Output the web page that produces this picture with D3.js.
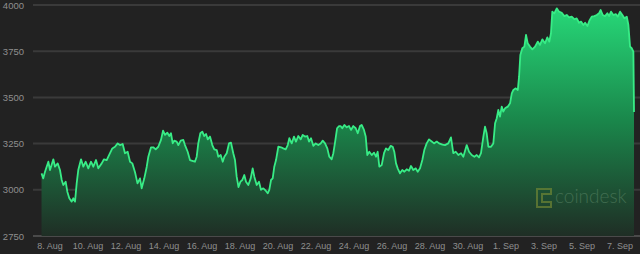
<!DOCTYPE html>
<html>
<head>
<meta charset="utf-8">
<script src="https://cdn.jsdelivr.net/npm/d3@7"></script>
<style>
html,body{margin:0;padding:0;background:#222222;}
svg{display:block;}
</style>
</head>
<body>
<svg id="chart" width="640" height="254"></svg>
<script>
// hours since 2017-08-07 12:00 UTC
const hours = [1.3,3.5,5.7,9.9,12.0,16.2,18.3,21.7,24.6,26.8,28.8,31.8,33.9,36.4,39.4,41.4,43.6,45.7,47.7,51.2,54.1,57.1,60.4,63.8,66.7,70.1,73.0,77.3,80.2,83.6,87.8,90.7,94.1,97.5,100.4,103.8,106.7,110.1,113.1,116.0,119.4,122.5,125.7,127.8,131.1,134.2,136.2,139.6,142.5,145.5,148.8,152.2,154.8,157.3,160.2,162.7,164.8,167.0,169.0,172.0,174.1,177.1,180.4,182.5,185.9,188.8,191.7,195.1,197.3,199.3,201.9,204.4,206.9,209.1,211.2,214.1,217.0,219.5,222.6,224.6,227.6,230.2,232.2,235.2,238.1,240.6,243.5,245.7,247.8,250.1,252.6,254.9,257.4,259.6,262.5,265.5,268.0,270.1,273.1,276.0,278.5,281.4,284.5,287.0,289.0,291.2,293.3,295.3,297.5,300.4,303.8,306.7,309.7,312.3,314.3,317.3,320.2,322.7,325.6,328.7,331.2,334.1,337.0,339.2,341.7,344.6,347.6,350.9,353.9,356.5,359.4,362.3,364.8,367.8,369.9,372.0,374.6,377.1,379.0,381.2,383.8,386.8,389.7,392.2,395.1,398.2,400.7,403.6,405.7,408.6,410.8,412.8,415.3,418.4,421.3,423.8,425.9,428.0,431.0,433.9,436.4,439.3,442.4,444.9,446.9,449.1,451.2,454.1,457.0,459.6,462.6,465.5,468.0,470.9,474.0,476.5,479.4,482.3,484.8,487.8,490.7,494.2,497.1,500.5,503.4,507.8,510.9,515.1,518.5,521.4,524.5,527.8,531.2,534.1,538.4,541.3,544.7,548.0,551.0,553.9,556.4,559.4,561.5,563.6,565.7,569.1,572.0,574.2,576.3,578.3,580.4,582.6,584.6,586.8,590.2,593.1,595.3,597.3,600.3,602.9,604.5,606.1,608.6,611.2,613.3,615.4,618.3,621.3,624.7,628.1,630.9,633.9,637.3,640.2,642.7,644.8,646.5,649.0,652.1,655.0,658.4,661.7,664.7,667.6,671.0,674.3,677.3,680.3,682.8,685.7,687.9,690.8,693.3,696.3,699.6,702.6,705.5,707.6,710.2,713.1,716.0,718.2,720.7,723.6,726.7,729.2,732.1,735.0,737.5,740.6,742.6,744.7,746.8,748.9,749.7];
const prices = [3089,3062,3098,3152,3107,3165,3125,3143,3107,3053,3026,3044,2990,2954,2936,2954,2936,3035,3107,3165,3125,3152,3116,3152,3125,3161,3116,3143,3165,3161,3198,3224,3233,3251,3242,3248,3198,3206,3152,3143,3095,3035,3062,3008,3062,3125,3179,3230,3230,3219,3233,3270,3320,3297,3309,3291,3306,3251,3266,3261,3242,3266,3270,3242,3206,3161,3157,3152,3179,3251,3306,3315,3291,3302,3273,3288,3242,3219,3215,3179,3188,3152,3179,3198,3251,3255,3198,3161,3071,3015,3044,3053,3080,3044,3026,3062,3116,3071,3026,3044,3000,3008,2995,2981,3000,3053,3062,3125,3161,3233,3230,3224,3219,3242,3279,3251,3288,3261,3291,3273,3297,3288,3291,3261,3279,3238,3251,3242,3251,3266,3251,3224,3179,3165,3198,3255,3333,3345,3345,3333,3351,3338,3345,3324,3345,3333,3306,3345,3351,3324,3288,3188,3206,3188,3201,3179,3206,3125,3134,3198,3224,3215,3238,3233,3206,3143,3116,3089,3107,3098,3111,3103,3129,3107,3116,3098,3116,3161,3215,3251,3273,3261,3251,3261,3251,3244,3242,3251,3284,3198,3206,3188,3198,3179,3242,3206,3188,3179,3188,3175,3198,3288,3342,3306,3233,3233,3251,3360,3387,3432,3396,3450,3423,3441,3450,3468,3522,3540,3549,3540,3612,3729,3766,3775,3838,3793,3775,3760,3775,3802,3784,3814,3793,3825,3802,3847,3964,3955,3982,3964,3958,3940,3946,3933,3937,3923,3928,3904,3910,3892,3904,3886,3915,3937,3940,3946,3955,3973,3946,3940,3955,3940,3964,3946,3951,3937,3964,3946,3928,3937,3892,3775,3766,3748,3421];
const yTicks = [2750, 3000, 3250, 3500, 3750, 4000];
const xTickLabels = ["8. Aug","10. Aug","12. Aug","14. Aug","16. Aug","18. Aug","20. Aug","22. Aug","24. Aug","26. Aug","28. Aug","30. Aug","1. Sep","3. Sep","5. Sep","7. Sep"];

const start = new Date(Date.UTC(2017, 7, 7, 12));
const data = hours.map((h, i) => ({t: new Date(start.getTime() + h * 3600e3), v: prices[i]}));
const xTicks = d3.utcDay.range(new Date(Date.UTC(2017, 7, 8)), new Date(Date.UTC(2017, 8, 8)), 2);

const svg = d3.select("#chart");
const W = 640, H = 254;
const x = d3.scaleUtc()
  .domain([start, new Date(Date.UTC(2017, 8, 7, 12))])
  .range([40.5, 629.5]);
const y = d3.scaleLinear().domain([2750, 4000]).range([236, 5]);

svg.append("rect").attr("width", W).attr("height", H).attr("fill", "#222222");

const defs = svg.append("defs");
const grad = defs.append("linearGradient").attr("id", "fillGrad")
  .attr("gradientUnits", "userSpaceOnUse")
  .attr("x1", 0).attr("x2", 0).attr("y1", y(4000)).attr("y2", y(2750));
grad.append("stop").attr("offset", 0).attr("stop-color", "#27da79");
grad.append("stop").attr("offset", 0.5).attr("stop-color", "#1a874b");
grad.append("stop").attr("offset", 1).attr("stop-color", "#1f2e25");

// grid
svg.append("g").selectAll("line").data(yTicks).join("line")
  .attr("x1", 33).attr("x2", W)
  .attr("y1", d => y(d)).attr("y2", d => y(d))
  .attr("stroke", d => d === 2750 ? "#4a4a4a" : "#3a3a3a")
  .attr("stroke-width", 2);

// y labels
svg.append("g").selectAll("text").data(yTicks).join("text")
  .attr("x", 24).attr("y", d => y(d) + 3.5)
  .attr("text-anchor", "end")
  .attr("font-family", "Liberation Sans, Arial, sans-serif")
  .attr("font-size", 9.5)
  .attr("fill", "#8f8f8f")
  .text(d => d);

// area + line
const area = d3.area().x(d => x(d.t)).y0(y(2750)).y1(d => y(d.v)).curve(d3.curveLinear);
const line = d3.line().x(d => x(d.t)).y(d => y(d.v)).curve(d3.curveLinear);
svg.append("path").datum(data).attr("d", area).attr("fill", "url(#fillGrad)");
svg.append("path").datum(data).attr("d", line)
  .attr("fill", "none").attr("stroke", "#38ec86").attr("stroke-width", 1.8)
  .attr("stroke-linejoin", "round");

// watermark
svg.append("text")
  .attr("x", 555).attr("y", 203)
  .attr("font-family", "Lato, Open Sans, sans-serif")
  .attr("font-weight", 300)
  .attr("font-size", 19)
  .attr("fill", "#5f8a6a").attr("opacity", 0.55)
  .text("coindesk");
svg.append("path")
  .attr("d", "M537,189 h14 v5 h-9 v8 h9 v5 h-14 z")
  .attr("fill", "none").attr("stroke", "#7d8f36").attr("stroke-opacity", 0.6).attr("stroke-width", 2);

// x labels
svg.append("g").selectAll("text").data(xTicks).join("text")
  .attr("x", d => x(d)).attr("y", 249)
  .attr("text-anchor", "middle")
  .attr("font-family", "Liberation Sans, Arial, sans-serif")
  .attr("font-size", 9)
  .attr("fill", "#8f8f8f")
  .text((d, i) => xTickLabels[i]);
</script>
</body>
</html>
